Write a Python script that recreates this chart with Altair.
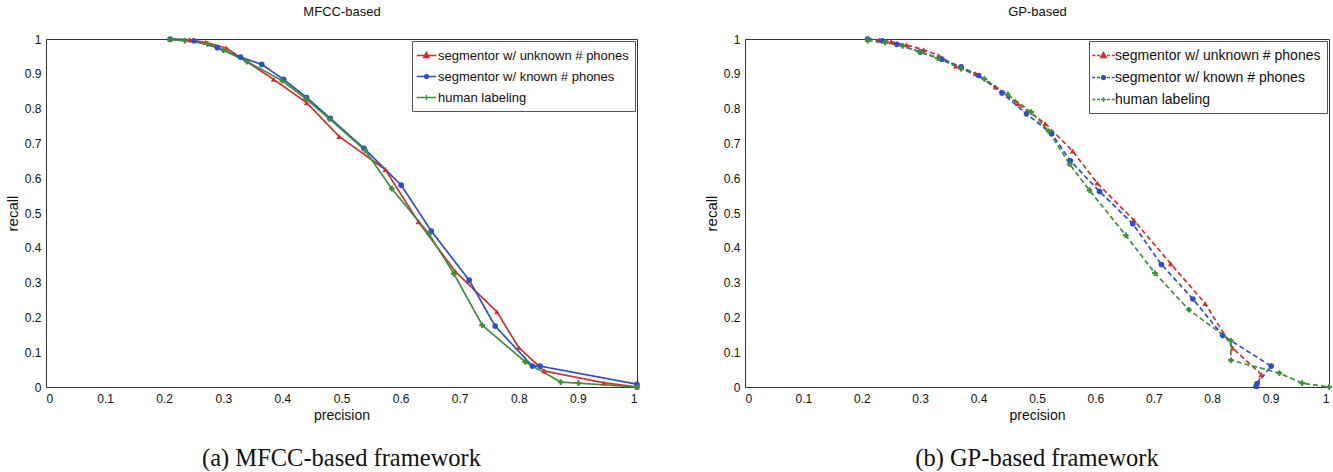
import altair as alt
import pandas as pd

SERIES = ["segmentor w/ unknown # phones", "segmentor w/ known # phones", "human labeling"]
COLORS = ["#d0302b", "#2c4fcc", "#3e8f3a"]
SHAPES = ["triangle-up", "circle", "cross"]
TICKS = [0, 0.1, 0.2, 0.3, 0.4, 0.5, 0.6, 0.7, 0.8, 0.9, 1]

# legend keys: a short line with the series marker in the middle
KEY_SOLID = [
    "M-1.3,0L1.3,0M0,-0.42L0.38,0.28L-0.38,0.28Z",
    "M-1.3,0L1.3,0M-0.26,0A0.26,0.26,0,1,1,0.26,0A0.26,0.26,0,1,1,-0.26,0Z",
    "M-1.3,0L1.3,0M0,-0.32L0,0.32M-0.32,0L0.32,0",
]
KEY_DASHED = [
    "M-1.5,0L-1.1,0M-0.85,0L-0.45,0M0.45,0L0.85,0M1.1,0L1.5,0M0,-0.42L0.38,0.28L-0.38,0.28Z",
    "M-1.5,0L-1.1,0M-0.85,0L-0.45,0M0.45,0L0.85,0M1.1,0L1.5,0M-0.26,0A0.26,0.26,0,1,1,0.26,0A0.26,0.26,0,1,1,-0.26,0Z",
    "M-1.5,0L-1.1,0M-0.85,0L-0.45,0M0.45,0L0.85,0M1.1,0L1.5,0M0,-0.32L0,0.32M-0.32,0L0.32,0",
]

# (a) MFCC-based framework
mfcc_unknown_p = [0.21, 0.243, 0.27, 0.305, 0.385, 0.441, 0.496, 0.574, 0.630, 0.693, 0.763, 0.800, 0.843, 0.944, 1.0]
mfcc_unknown_r = [1.0, 0.998, 0.99, 0.974, 0.884, 0.817, 0.72, 0.625, 0.475, 0.331, 0.216, 0.113, 0.046, 0.012, 0.0]
mfcc_known_p = [0.21, 0.25, 0.29, 0.329, 0.365, 0.402, 0.441, 0.481, 0.538, 0.601, 0.652, 0.716, 0.760, 0.823, 0.836, 1.0]
mfcc_known_r = [1.0, 0.995, 0.975, 0.948, 0.927, 0.884, 0.832, 0.772, 0.686, 0.58, 0.448, 0.307, 0.175, 0.06, 0.06, 0.008]
mfcc_human_p = [0.21, 0.235, 0.273, 0.30, 0.34, 0.40, 0.44, 0.48, 0.54, 0.585, 0.648, 0.69, 0.738, 0.811, 0.871, 0.901, 1.0]
mfcc_human_r = [0.998, 0.995, 0.986, 0.968, 0.935, 0.88, 0.828, 0.77, 0.68, 0.57, 0.44, 0.326, 0.178, 0.072, 0.014, 0.011, 0.0]

# (b) GP-based framework
gp_unknown_p = [0.21, 0.23, 0.25, 0.276, 0.306, 0.332, 0.361, 0.395, 0.429, 0.467, 0.514, 0.561, 0.603, 0.666, 0.729, 0.788, 0.835, 0.884, 0.876]
gp_unknown_r = [1.0, 0.997, 0.992, 0.983, 0.969, 0.952, 0.922, 0.90, 0.862, 0.814, 0.757, 0.678, 0.586, 0.479, 0.354, 0.24, 0.112, 0.036, 0.002]
gp_known_p = [0.21, 0.235, 0.26, 0.30, 0.337, 0.37, 0.40, 0.44, 0.482, 0.525, 0.557, 0.607, 0.664, 0.713, 0.767, 0.818, 0.901, 0.877, 0.875]
gp_known_r = [1.0, 0.995, 0.985, 0.963, 0.942, 0.92, 0.895, 0.845, 0.785, 0.728, 0.65, 0.562, 0.469, 0.352, 0.253, 0.148, 0.06, 0.01, 0.002]
gp_human_p = [0.21, 0.24, 0.27, 0.30, 0.33, 0.37, 0.41, 0.45, 0.49, 0.52, 0.556, 0.59, 0.652, 0.702, 0.76, 0.832, 0.832, 0.915, 0.954, 1.0]
gp_human_r = [0.995, 0.99, 0.98, 0.962, 0.945, 0.915, 0.885, 0.84, 0.79, 0.735, 0.64, 0.565, 0.436, 0.327, 0.222, 0.133, 0.077, 0.04, 0.011, 0.0]


def frame(pairs):
    rows = []
    for name, (ps, rs) in zip(SERIES, pairs):
        for i, (p, r) in enumerate(zip(ps, rs)):
            rows.append({"series": name, "idx": i, "precision": p, "recall": r})
    return pd.DataFrame(rows)


mfcc_df = frame([(mfcc_unknown_p, mfcc_unknown_r), (mfcc_known_p, mfcc_known_r), (mfcc_human_p, mfcc_human_r)])
gp_df = frame([(gp_unknown_p, gp_unknown_r), (gp_known_p, gp_known_r), (gp_human_p, gp_human_r)])

FONT = "Liberation Sans"


def panel(df, title, caption, W, H, dash, keys, legend_size, row_pad):
    xs = alt.Scale(domain=[0, 1], nice=False, zero=False)
    ys = alt.Scale(domain=[0, 1], nice=False, zero=False)
    cscale = alt.Scale(domain=SERIES, range=COLORS)
    nox = alt.X("precision:Q", scale=xs, axis=None)
    noy = alt.Y("recall:Q", scale=ys, axis=None)

    main_x = alt.Axis(values=TICKS, format="~g", ticks=False, domain=False, grid=False,
                      labelFont=FONT, labelFontSize=12, labelColor="#111", labelPadding=6,
                      titleFont=FONT, titleFontSize=14, titleFontWeight="normal", titleColor="#111",
                      titlePadding=4)
    main_y = alt.Axis(values=TICKS, format="~g", ticks=False, domain=False, grid=False,
                      labelFont=FONT, labelFontSize=12, labelColor="#111", labelPadding=5,
                      titleFont=FONT, titleFontSize=15, titleFontWeight="normal", titleColor="#111",
                      titlePadding=4)

    lines = alt.Chart(df).mark_line(strokeWidth=1.7, strokeDash=dash).encode(
        x=alt.X("precision:Q", scale=xs, axis=main_x, title="precision"),
        y=alt.Y("recall:Q", scale=ys, axis=main_y, title="recall"),
        stroke=alt.Stroke("series:N", scale=cscale),
        order="idx:Q",
    )

    # one marker layer per series, each with its own glyph
    marker_layers = [
        alt.Chart(df).transform_filter(alt.datum.series == name)
        .mark_point(filled=True, size=32, shape=shape, opacity=1)
        .encode(x=nox, y=noy, fill=alt.Fill("series:N", scale=cscale))
        for name, shape in zip(SERIES, SHAPES)
    ]

    leg = alt.Legend(
        title=None, orient="top-right", offset=2, fillColor="white", strokeColor="#555",
        padding=6, labelFont=FONT, labelFontSize=legend_size, labelColor="#111", labelLimit=400,
        symbolSize=225, symbolStrokeWidth=1.4, symbolOpacity=1, symbolDash=[1, 0],
        rowPadding=row_pad, labelOffset=3,
    )
    key = alt.Chart(df).transform_filter(alt.datum.idx < 0).mark_point(filled=True, size=225).encode(
        x=nox, y=noy,
        fill=alt.Fill("series:N", scale=cscale, legend=leg),
        stroke=alt.Stroke("series:N", scale=cscale, legend=leg),
        shape=alt.Shape("series:N", scale=alt.Scale(domain=SERIES, range=keys), legend=leg),
    )

    # panel heading carried by a bare top axis
    heading = alt.Chart(df).transform_filter(alt.datum.idx < 0).mark_point().encode(
        x=alt.X("precision:Q", scale=xs, title=title, axis=alt.Axis(
            orient="top", labels=False, ticks=False, domain=False, grid=False,
            titleFont=FONT, titleFontSize=13, titleFontWeight="normal", titleColor="#111",
            titlePadding=21)),
        y=noy,
    )

    return alt.layer(lines, *marker_layers, key, heading).resolve_axis(
        x="independent", y="independent"
    ).properties(
        width=W, height=H,
        title=alt.Title(caption, orient="bottom", anchor="middle", font="Liberation Serif",
                        fontSize=24.5, fontWeight="normal", color="#111", offset=25),
    )


left = panel(mfcc_df, "MFCC-based", "(a) MFCC-based framework", 591, 348, [1, 0], KEY_SOLID, 13, 5)
right = panel(gp_df, "GP-based", "(b) GP-based framework", 584, 348, [5, 3], KEY_DASHED, 14, 6)

chart = alt.hconcat(left, right, spacing=62).resolve_scale(
    fill="independent", stroke="independent", shape="independent"
).resolve_legend(
    fill="independent", stroke="independent", shape="independent"
).configure_view(
    stroke="#333", strokeWidth=1
).properties(
    padding={"left": 4, "top": 4, "right": 0, "bottom": 0}, background="white"
)

chart.save("out.html", embed_options={"renderer": "svg", "actions": False})
